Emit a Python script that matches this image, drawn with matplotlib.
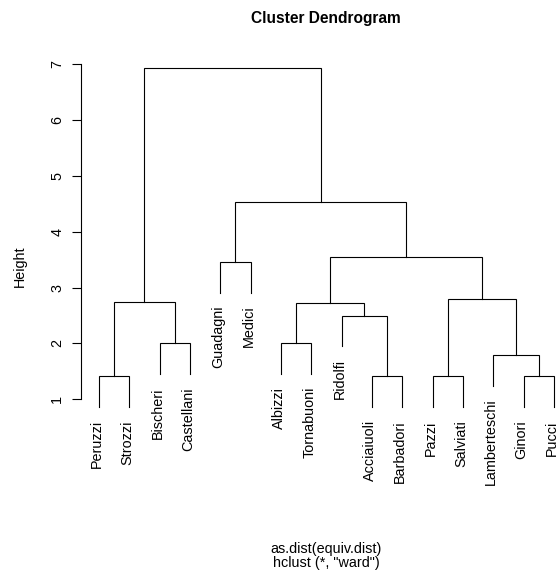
import matplotlib
matplotlib.use("Agg")
import matplotlib.pyplot as plt

plt.rcParams['font.family'] = ['Liberation Sans', 'DejaVu Sans']

# leaves in plotting order
labels = ["Peruzzi", "Strozzi", "Bischeri", "Castellani", "Guadagni", "Medici",
          "Albizzi", "Tornabuoni", "Ridolfi", "Acciaiuoli", "Barbadori", "Pazzi",
          "Salviati", "Lamberteschi", "Ginori", "Pucci"]

# R-style merge matrix: negative = leaf (1-based index into labels), positive = earlier merge
merge = [(-1, -2), (-10, -11), (-12, -13), (-15, -16), (-14, 4), (-3, -4),
         (-7, -8), (-9, 2), (7, 8), (1, 6), (3, 5), (-5, -6), (9, 11),
         (12, 13), (10, 14)]
heights = [1.41, 1.41, 1.41, 1.41, 1.80, 2.00, 2.01, 2.50, 2.73, 2.74, 2.79,
           3.46, 3.54, 4.54, 6.94]

W, H = 560, 579
fs = 10.4
fig = plt.figure(figsize=(W / 100, H / 100), dpi=100)

# plot region in pixels (right edge runs past the figure, as in the reference)
x_left, x_right = 80.8, 572.2
y_top, y_bot = 54.0, 505.0
px_per_unit = 55.83
ax = fig.add_axes([x_left / W, 1 - y_bot / H, (x_right - x_left) / W, (y_bot - y_top) / H])
ax.set_xlim(0.4, 16.6)
ax.set_ylim(1 - (y_bot - 399.3) / px_per_unit, 7 + (64.3 - y_top) / px_per_unit)

hang = 0.1 * (max(heights) - min(heights))
lw = 0.8

node_x = {}
for k, (a, b) in enumerate(merge, start=1):
    h = heights[k - 1]
    pts = []
    for ref in (a, b):
        if ref < 0:
            x = -ref
            y0 = h - hang
            ax.annotate(labels[x - 1], (x, y0), xytext=(-2, -13), textcoords='offset pixels',
                        rotation=90, ha='center', va='top', fontsize=fs)
        else:
            x = node_x[ref]
            y0 = heights[ref - 1]
        pts.append((x, y0))
    (xa, ya), (xb, yb) = pts
    ax.plot([xa, xa, xb, xb], [ya, h, h, yb], color='black', lw=lw, solid_joinstyle='miter')
    node_x[k] = (xa + xb) / 2

for s in ['top', 'right', 'bottom']:
    ax.spines[s].set_visible(False)
ax.spines['left'].set_bounds(1, 7)
ax.spines['left'].set_linewidth(lw)
ax.set_xticks([])
ax.set_yticks(range(1, 8))
ax.tick_params(axis='y', length=6.5, width=lw, pad=5.5, labelsize=fs)
for t in ax.get_yticklabels():
    t.set_rotation(90)
    t.set_va('center')

fig.text(20 / W, 1 - 266 / H, "Height", rotation=90, ha='center', va='center', fontsize=fs)
fig.text(326 / W, 1 - 18 / H, "Cluster Dendrogram", ha='center', va='center',
         fontsize=11.2, fontweight='bold')
fig.text(326 / W, 1 - 549 / H, "as.dist(equiv.dist)", ha='center', va='center', fontsize=fs)
fig.text(326 / W, 1 - 563 / H, 'hclust (*, "ward")', ha='center', va='center', fontsize=fs)

fig.savefig("out.png", dpi=100, facecolor='white')
